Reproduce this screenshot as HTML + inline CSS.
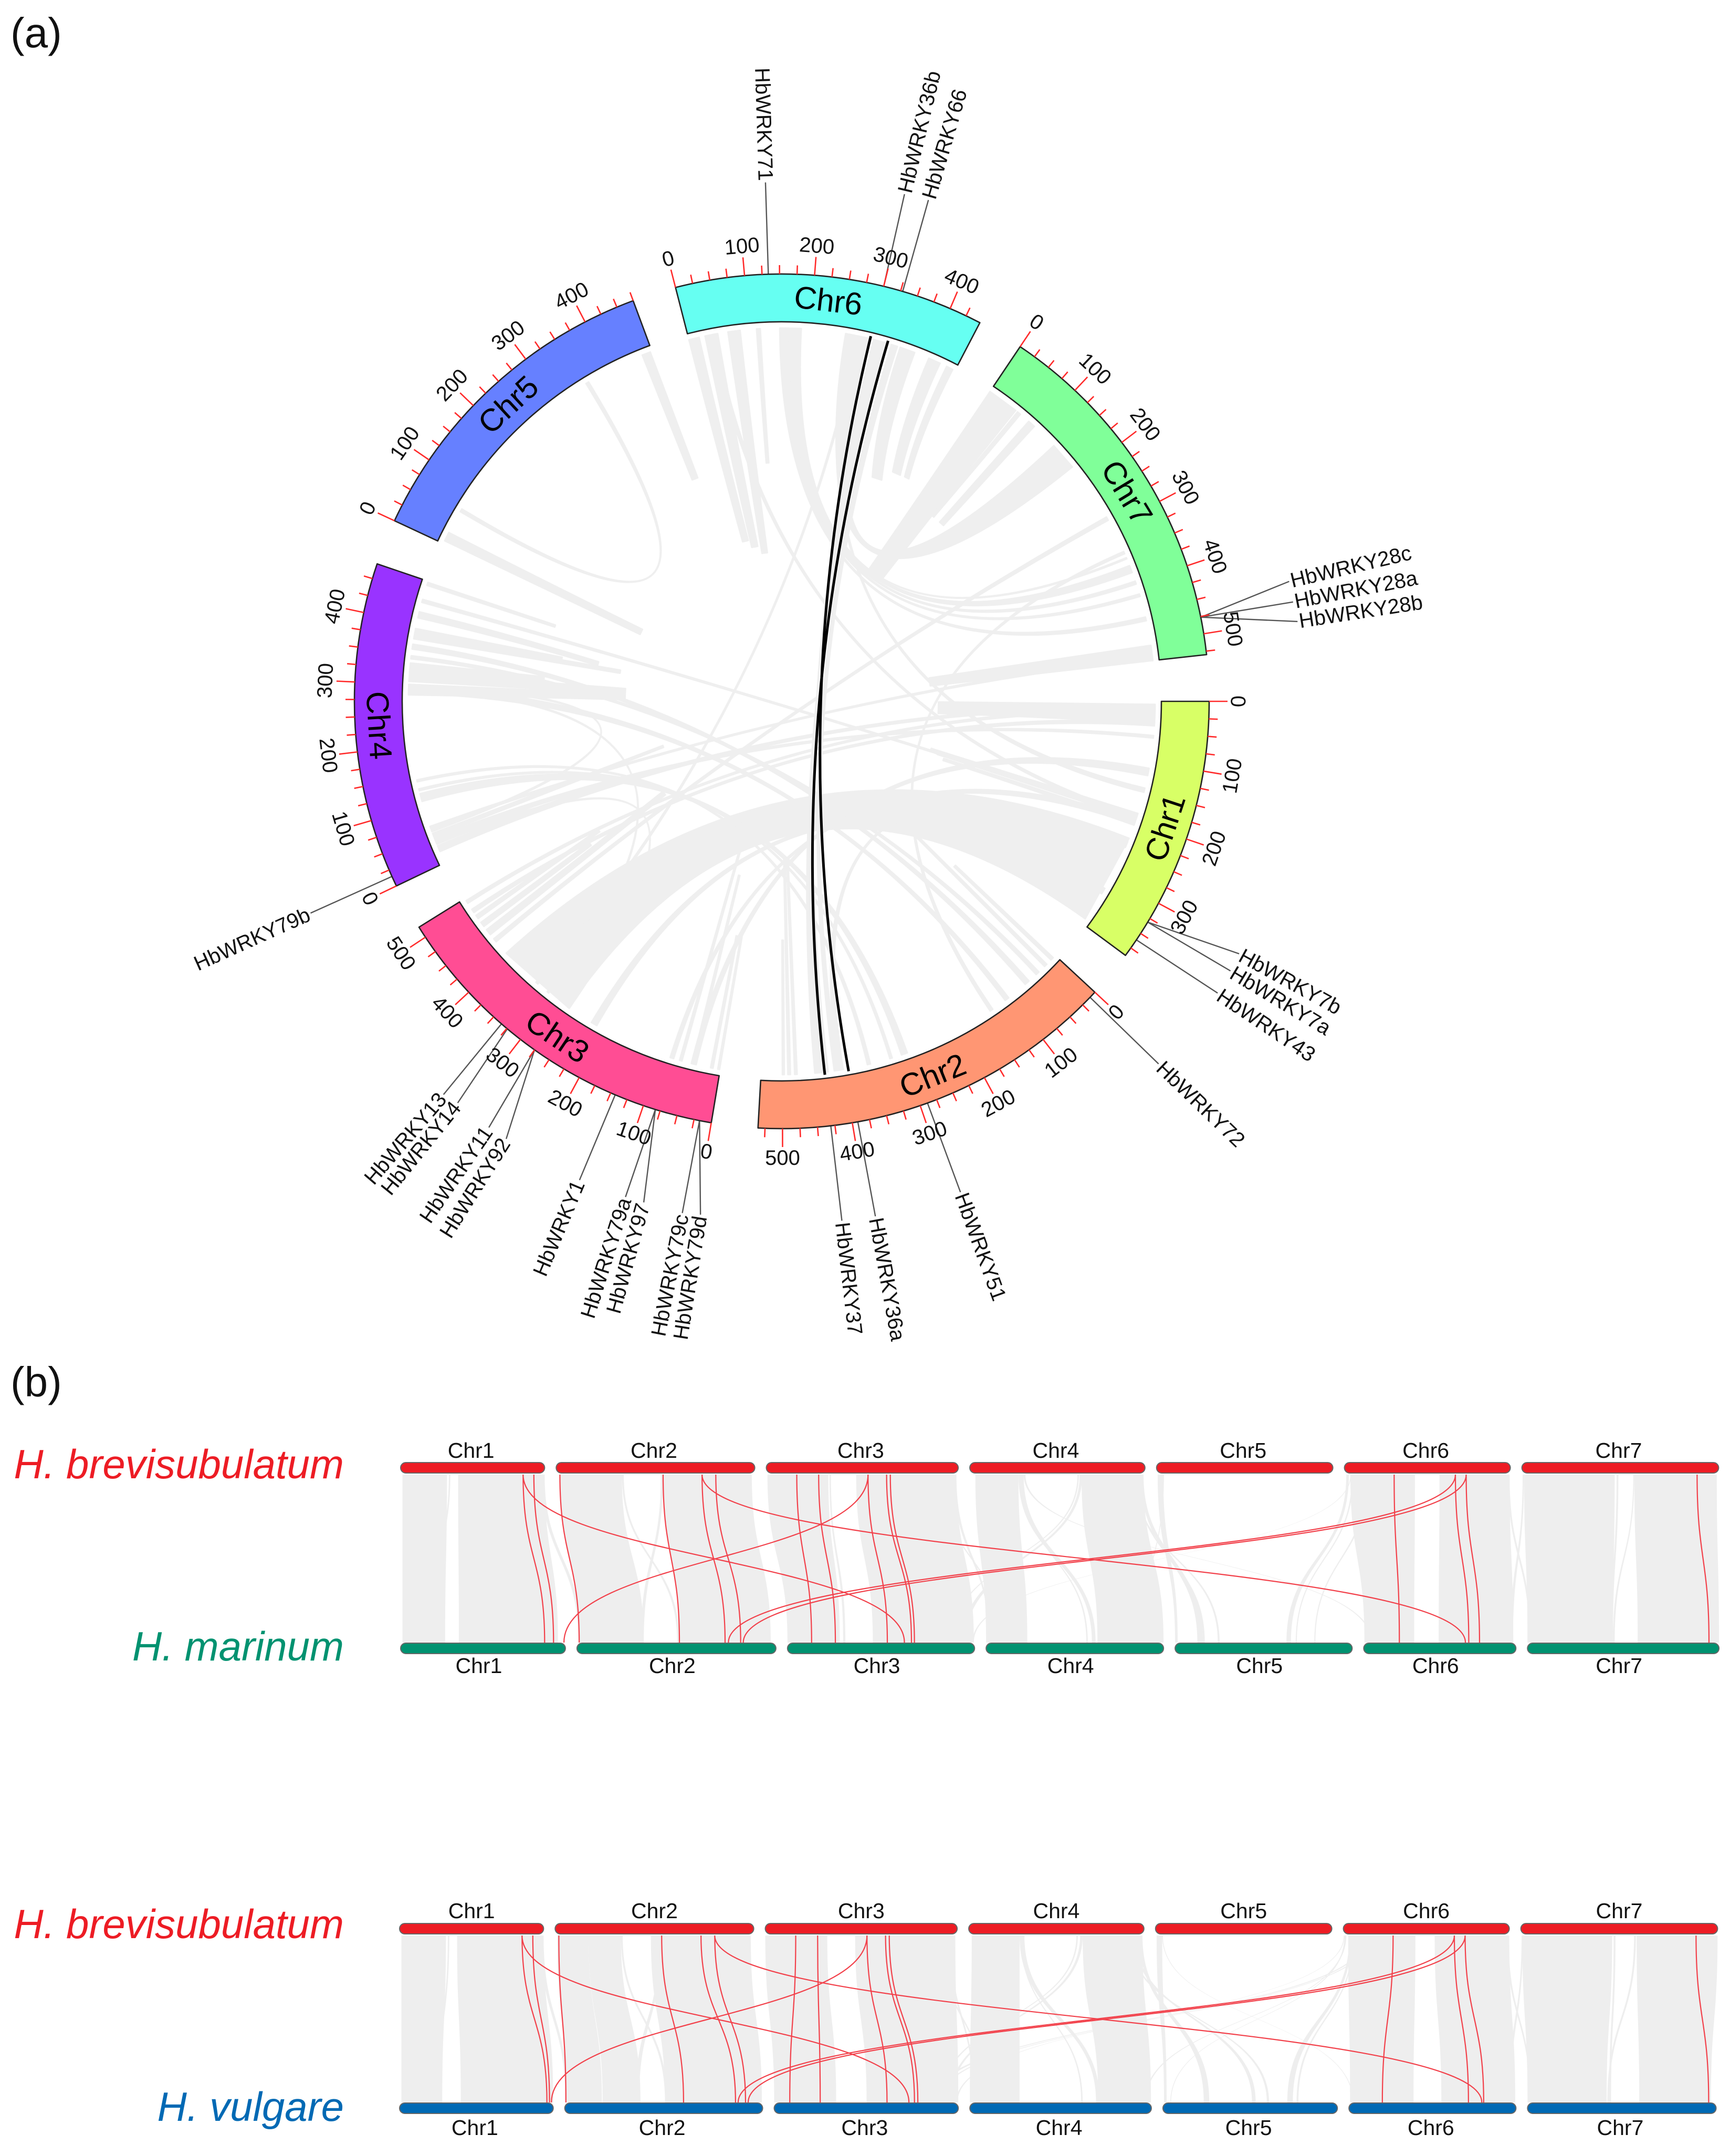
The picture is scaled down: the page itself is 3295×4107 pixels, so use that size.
<!DOCTYPE html>
<html lang="en">
<head>
<meta charset="utf-8">
<title>HbWRKY collinearity figure</title>
<style>
html,body{margin:0;padding:0;background:#fff;}
svg{display:block;font-family:"Liberation Sans",Arial,sans-serif;}
</style>
</head>
<body>
<svg id="fig" xmlns="http://www.w3.org/2000/svg" width="3295" height="4107" viewBox="0 0 3295 4107">
  <rect x="0" y="0" width="3295" height="4107" fill="#ffffff"/>
  <text x="20" y="90" font-size="80" fill="#111">(a)</text>
  <text x="20" y="2660" font-size="80" fill="#111">(b)</text>
  <g id="circos"></g>
  <g id="syn"></g>
  <text x="655" y="2816" font-size="78" font-style="italic" text-anchor="end" fill="#ed1c24">H. brevisubulatum</text>
  <text x="655" y="3163" font-size="78" font-style="italic" text-anchor="end" fill="#009270">H. marinum</text>
  <text x="655" y="3692" font-size="78" font-style="italic" text-anchor="end" fill="#ed1c24">H. brevisubulatum</text>
  <text x="655" y="4040" font-size="78" font-style="italic" text-anchor="end" fill="#0069b4">H. vulgare</text>
</svg>
<script>
/* ---------- circos data ---------- */
const chrNames=['Chr1','Chr2','Chr3','Chr4','Chr5','Chr6','Chr7'];
const chrLengths=[388,535,517,472,475,447,530];
const chrColors=['#d8ff66','#ff9673','#ff4d94','#9933ff','#6680ff','#66fff2','#80ff99'];
const tickLabelValues=[0,100,200,300,400,500];

const geneNames=['HbWRKY7b','HbWRKY7a','HbWRKY43','HbWRKY72','HbWRKY51','HbWRKY36a','HbWRKY37','HbWRKY79d','HbWRKY79c','HbWRKY97','HbWRKY79a','HbWRKY1','HbWRKY92','HbWRKY11','HbWRKY14','HbWRKY13','HbWRKY79b','HbWRKY71','HbWRKY36b','HbWRKY66','HbWRKY28c','HbWRKY28a','HbWRKY28b'];
const geneChr=[1,1,1,2,2,2,2,3,3,3,3,3,3,3,3,3,4,6,6,6,7,7,7];
const genePos=[331,331,361,10,289,392,431,17,17,82,82,143,275,275,324,335,15,134,300,328,476,476,476];
/* label layout (polar) */
const labelDeg=[28.9,31,33.8,43.9,70,79.7,83.4,99,101,105.4,107.5,112.9,122.2,124.5,128.9,130.7,155.8,268.2,283.6,286.3,346.7,349,351.2];
const labelRad=[995,997,999,996,995,997,996,990,993,990,990,990,985,985,983,988,984,989,994,995,993,992,994];

/* ribbons: [chr, pos1, pos2] at each end, and how far along the ribbon is drawn */
const linkFrom=[[3,270,405],[3,215,225],[3,78,84],[3,64,68],[3,43,47],[3,12,16],[3,1,4],[3,462,470],[3,478,484],[3,445,450],[3,452,455],[3,508,513],[3,490,496],
[4,55,58],[4,290,293],[4,33,36],[4,20,30],[4,36,44],[4,46,52],[4,107,120],[4,125,128],[4,140,143],[4,285,297],[4,358,366],[4,342,347],[4,436,441],[4,465,470],[4,410,420],[4,385,392],[4,375,384],[4,320,335],[4,305,320],[4,283,300],
[1,5,25],[1,26,36],[1,110,122],[2,400,408],[1,186,190],[1,193,196],[1,200,206],
[6,258,262],[6,38,44],[6,278,281],[6,305,325],[6,335,345],[6,264,296],
[7,0,52],[7,56,62],[7,80,92],[6,350,375],[6,400,420],[6,432,443],[6,0,17],[6,27,41],[6,38,48],[6,65,78],[6,80,85],[6,112,118],
[6,150,156],[6,158,165],[6,167,175],[6,175,182],[6,182,185],[7,345,349],[7,282,288],[7,505,530],[7,522,526],
[5,458,472],[5,355,360],[5,5,9],[5,9,20],[2,5,10],[2,20,25],[2,476,480],[2,487,491],[2,497,500]];
const linkTo=[[1,379,229],[1,330,320],[1,205,195],[6,322,320],[6,300,298],[6,270,268],[6,258,256],[7,205,200],[7,225,220],[7,190,186],[7,170,168],[1,20,15],[1,40,34],
[4,300,297],[3,313,310],[3,271,268],[1,14,8],[1,60,56],[7,370,365],[2,302,292],[2,322,318],[2,360,355],[2,110,103],[2,68,60],[2,44,38],[1,193,189],[1,192,190],[1,305,295],[1,108,104],[1,90,85],[1,70,60],[1,45,38],[1,30,22],
[4,290,270],[4,262,255],[3,48,40],[1,245,235],[4,458,456],[4,445,443],[4,430,426],
[1,150,143],[1,195,190],[3,337,333],[2,425,447],[2,415,408],[7,183,137],
[3,285,280],[3,370,368],[3,350,346],[1,90,80],[1,60,55],[1,30,27],[2,310,305],[2,330,325],[2,345,340],[2,380,376],[2,395,392],[2,430,428],
[7,464,458],[7,423,419],[7,402,397],[7,382,370],[7,358,356],[2,140,135],[3,436,430],[4,198,190],[4,64,60],
[2,280,275],[5,64,59],[1,280,276],[1,270,264],[5,200,198],[5,215,213],[6,122,120],[6,133,131],[6,145,143]];
const linkExtent=[1,1,1,.29,.26,.18,.18,.18,.2,.3,.3,1,1,
1,1,1,1,1,.33,1,1,1,1,1,1,1,.18,.25,.2,.28,.18,.29,.29,
.29,.29,1,1,.29,.28,.27,
1,1,1,1,1,1,
.29,.18,.18,.2,.18,.18,.28,.29,.29,.3,.3,.18,
1,1,1,1,1,1,1,.3,1,
.18,1,.29,.29,.18,.3,.29,.29,.18];

/* highlighted gene pairs */
const blackFrom=[[6,299],[6,328]];
const blackTo=[[2,392],[2,431]];

/* ---------- synteny data ---------- */
const brevLengths=[388,535,517,472,475,447,530];
const marinumLengths=[444,536,504,478,477,410,516];
const vulgareLengths=[414,533,496,489,470,450,508];

const grayTop1=[[1,5,125],[1,155,388],[2,10,177],[2,288,527],[3,3,167],[3,242,512],[4,15,131],[4,301,468],[5,3,18],[6,16,190],[6,256,445],[7,6,250],[7,303,525],
[4,131,145],[4,140,143],[4,296,303],[4,290,294],[4,460,468],[4,448,452],[4,440,445],[6,16,18],[6,5,12],[6,20,24],[6,60,65],[3,505,512],[3,470,474],[1,380,388],[1,130,134],[2,177,182],[2,282,288],[3,170,174],[7,2,6],[6,440,445],[7,255,260],[7,300,303],[5,18,20],[4,145,150]];
const grayBot1=[[1,5,120],[1,157,424],[2,6,180],[2,277,522],[3,0,141],[3,230,502],[4,0,111],[4,300,478],[5,0,7],[6,2,136],[6,202,403],[7,0,230],[7,297,516],
[4,285,295],[4,270,274],[3,470,480],[3,440,444],[5,60,75],[5,75,80],[5,115,120],[3,498,502],[5,300,312],[5,325,328],[5,375,378],[4,8,12],[4,40,44],[2,4,12],[1,60,64],[2,270,276],[2,172,180],[3,150,156],[6,395,402],[7,5,10],[7,225,230],[7,230,235],[4,420,423],[6,20,24]];
const redTop1=[[1,330],[1,359],[2,10],[2,288],[2,393],[2,430],[3,82],[3,141],[3,274],[3,324],[3,334],[6,134],[6,299],[6,328],[7,472],[1,330],[2,393],[3,274],[6,299],[6,328]];
const redBot1=[[1,388],[1,412],[2,6],[2,276],[2,399],[2,441],[3,65],[3,129],[3,269],[3,334],[3,342],[6,96],[6,283],[6,312],[7,489],[3,315],[6,274],[1,440],[2,408],[2,448]];

const grayTop2=[[1,5,125],[1,155,388],[2,6,90],[2,90,177],[2,258,527],[3,0,167],[3,242,512],[4,8,137],[4,307,468],[5,3,18],[6,13,194],[6,246,447],[7,4,246],[7,312,530],
[4,137,150],[4,140,143],[4,300,307],[4,290,294],[4,460,468],[4,445,450],[4,430,435],[6,3,6],[6,1,3],[6,16,22],[6,25,28],[6,5,8],[3,495,500],[3,470,474],[1,380,388],[2,177,182],[2,282,288],[1,130,134],[7,2,6],[6,440,445],[7,250,255],[7,305,310],[5,18,20],[6,60,66],[6,70,75]];
const grayBot2=[[1,5,115],[1,165,414],[2,3,100],[2,102,204],[2,270,531],[3,0,167],[3,249,496],[4,0,134],[4,346,488],[5,3,10],[6,3,174],[6,249,448],[7,0,213],[7,301,494],
[4,340,350],[4,300,304],[3,470,476],[3,445,450],[5,110,125],[5,240,250],[5,280,286],[5,20,22],[3,490,494],[5,335,350],[5,360,365],[4,470,474],[4,10,14],[4,40,44],[2,2,8],[2,270,276],[2,190,200],[1,100,105],[6,430,436],[7,6,10],[7,220,225],[7,215,220],[6,10,12],[3,420,430],[3,440,446]];
const redTop2=[[1,330],[1,359],[2,10],[2,287],[2,393],[2,430],[3,82],[3,141],[3,274],[3,324],[3,334],[6,134],[6,299],[6,328],[7,472],[1,330],[2,430],[3,274],[6,299],[6,328]];
const redBot2=[[1,397],[1,404],[2,3],[2,320],[2,460],[2,487],[3,42],[3,124],[3,304],[3,378],[3,387],[6,90],[6,322],[6,363],[7,488],[3,363],[6,358],[1,409],[2,467],[2,494]];

/* ---------- helpers ---------- */
const NS='http://www.w3.org/2000/svg';
const circos=document.getElementById('circos');
const syn=document.getElementById('syn');
function mk(tag,parent,attrs){
  const e=document.createElementNS(NS,tag);
  for(const k in attrs){e.setAttribute(k,attrs[k]);}
  parent.appendChild(e);
  return e;
}
const CX=1489,CY=1336,R_OUT=814,R_IN=723,R_LINK=711,DEG_PER_UNIT=0.094;
const MAJOR=35,MINOR=17,TICK_LABEL_R=870;
const chrStartDeg=[0,42.9,99.5,154.4,205,255.6,303.9];
const rad=d=>d*Math.PI/180;
function angle(chr,pos){return chrStartDeg[chr-1]+pos*DEG_PER_UNIT;}
function polar(deg,r){return [CX+r*Math.cos(rad(deg)),CY+r*Math.sin(rad(deg))];}
function pt(chr,pos,r){return polar(angle(chr,pos),r);}
const f=p=>p[0].toFixed(1)+' '+p[1].toFixed(1);

/* ---------- ribbons ---------- */
function edgeAt(P,t){
  const Q1=[P[0]+(CX-P[0])*t,P[1]+(CY-P[1])*t];
  const Q2=[(1-t)*(1-t)*P[0]+2*(1-t)*t*CX,(1-t)*(1-t)*P[1]+2*(1-t)*t*CY];
  return {Q1,Q2};
}
function ribbonPath(a,b,ext){
  const A1=pt(a[0],a[1],R_LINK),A2=pt(a[0],a[2],R_LINK);
  const B1=pt(b[0],b[1],R_LINK),B2=pt(b[0],b[2],R_LINK);
  const mid=(P,B,t)=>{
    const e=edgeAt(P,t);
    return {c:e.Q1,e:[e.Q2[0]+t*t*B[0],e.Q2[1]+t*t*B[1]]};
  };
  const e1=mid(A1,B1,ext),e2=mid(A2,B2,ext);
  return 'M'+f(A1)+' Q'+f(e1.c)+' '+f(e1.e)+' L'+f(e2.e)+' Q'+f(e2.c)+' '+f(A2)+' Z';
}
linkFrom.forEach(function(a,i){
  const p=mk('path',circos,{d:ribbonPath(a,linkTo[i],linkExtent[i]),fill:'#efefef',stroke:'#efefef',"stroke-width":3,"stroke-linejoin":'round'});
  
  
});
blackFrom.forEach(function(a,i){
  const b=blackTo[i];
  const A=pt(a[0],a[1],716),B=pt(b[0],b[1],716);
  const p=mk('path',circos,{d:'M'+f(A)+' Q'+CX+' '+CY+' '+f(B),fill:'none',stroke:'#000',"stroke-width":5});
  
  
});

/* ---------- gene leader lines ---------- */
geneNames.forEach(function(name,i){
  const deg=labelDeg[i],r=labelRad[i];
  const A=pt(geneChr[i],genePos[i],R_OUT),B=polar(deg,r);
  const line=mk('line',circos,{x1:A[0],y1:A[1],x2:B[0],y2:B[1],stroke:'#555',"stroke-width":2.4});
  
  
  const flip=deg>90&&deg<270;
  const T=polar(deg,r+3);
  const rot=flip?deg-180:deg;
  const t=mk('text',circos,{x:T[0],y:T[1],"font-size":40,fill:'#111',"text-anchor":flip?'end':'start',"dominant-baseline":'central',transform:'rotate('+rot+' '+T[0]+' '+T[1]+')'});
  t.textContent=name;
  
  
});

/* ---------- chromosome ring, ticks, labels ---------- */
chrNames.forEach(function(name,i){
  const chr=i+1,len=chrLengths[i];
  const o1=pt(chr,0,R_OUT),o2=pt(chr,len,R_OUT),i2=pt(chr,len,R_IN),i1=pt(chr,0,R_IN);
  const d='M'+f(o1)+' A'+R_OUT+' '+R_OUT+' 0 0 1 '+f(o2)+' L'+f(i2)+' A'+R_IN+' '+R_IN+' 0 0 0 '+f(i1)+' Z';
  const seg=mk('path',circos,{d:d,fill:chrColors[i],stroke:'#222',"stroke-width":2.6,"stroke-linejoin":'round'});
  
  
  for(let v=0;v<=len;v+=25){
    const major=v%100===0;
    const a=pt(chr,v,R_OUT),b=pt(chr,v,R_OUT+(major?MAJOR:MINOR));
    const tk=mk('line',circos,{x1:a[0],y1:a[1],x2:b[0],y2:b[1],stroke:'#ff2a2a',"stroke-width":2.6});
    
    
  }
  tickLabelValues.filter(v=>v<=len).forEach(function(v){
    const deg=angle(chr,v);
    const P=polar(deg,TICK_LABEL_R);
    const rot=deg<180?deg-90:deg+90;
    const t=mk('text',circos,{x:P[0],y:P[1],"font-size":40,fill:'#111',"text-anchor":'middle',"dominant-baseline":'central',transform:'rotate('+rot+' '+P[0]+' '+P[1]+')'});
    t.textContent=String(v);
    
    
  });
  const midDeg=angle(chr,len/2);
  const M=polar(midDeg,(R_OUT+R_IN)/2);
  const rot=midDeg<180?midDeg-90:midDeg+90;
  const lab=mk('text',circos,{x:M[0],y:M[1],"font-size":60,fill:'#000',"text-anchor":'middle',"dominant-baseline":'central',transform:'rotate('+rot+' '+M[0]+' '+M[1]+')'});
  lab.textContent=name;
  
  
});

/* ---------- synteny panels ---------- */
const PX_PER_UNIT=0.707,GAP=22,BAR_H=20;
function rowX(x0,lengths,chr,pos){
  let x=x0;
  for(let i=0;i<chr-1;i++){x+=lengths[i]*PX_PER_UNIT+GAP;}
  return x+pos*PX_PER_UNIT;
}
function drawPanel(top,bot,grayTop,grayBot,redTop,redBot){
  const yT=top.y+BAR_H+3,yB=bot.y-1,m=(yT+yB)/2;
  const X=(row,chr,pos)=>rowX(row.x0,row.lengths,chr,pos);
  grayTop.forEach(function(a,i){
    const b=grayBot[i];
    const x1=X(top,a[0],a[1]),x2=X(top,a[0],a[2]),x3=X(bot,b[0],b[1]),x4=X(bot,b[0],b[2]);
    const d='M'+x1+' '+yT+' C'+x1+' '+m+' '+x3+' '+m+' '+x3+' '+yB+' L'+x4+' '+yB+' C'+x4+' '+m+' '+x2+' '+m+' '+x2+' '+yT+' Z';
    const p=mk('path',syn,{d:d,fill:'#eeeeee',stroke:'none'});
    
    
  });
  redTop.forEach(function(a,i){
    const b=redBot[i];
    const x1=X(top,a[0],a[1]),x2=X(bot,b[0],b[1]);
    const d='M'+x1+' '+yT+' C'+x1+' '+m+' '+x2+' '+m+' '+x2+' '+yB;
    const p=mk('path',syn,{d:d,fill:'none',stroke:'#f2404a',"stroke-width":2.2});
    
    
  });
  [top,bot].forEach(function(row){
    row.lengths.forEach(function(len,i){
      const x=rowX(row.x0,row.lengths,i+1,0),w=len*PX_PER_UNIT;
      const r=mk('rect',syn,{x:x,y:row.y,width:w,height:BAR_H,rx:10,ry:10,fill:row.color,stroke:'#666',"stroke-width":2});
      
      
      const t=mk('text',syn,{x:x+w/2+row.labelDx,y:row.labelY,"font-size":41,fill:'#111',"text-anchor":'middle'});
      t.textContent=chrNames[i];
      
      
    });
  });
}
drawPanel(
  {x0:763,y:2786,lengths:brevLengths,color:'#ed1c24',labelY:2777,labelDx:-3},
  {x0:763,y:3130,lengths:marinumLengths,color:'#009270',labelY:3187,labelDx:-8},
  grayTop1,grayBot1,redTop1,redBot1);
drawPanel(
  {x0:761,y:3664,lengths:brevLengths,color:'#ed1c24',labelY:3654,labelDx:0},
  {x0:761,y:4006,lengths:vulgareLengths,color:'#0069b4',labelY:4067,labelDx:-3},
  grayTop2,grayBot2,redTop2,redBot2);
</script>
</body>
</html>
